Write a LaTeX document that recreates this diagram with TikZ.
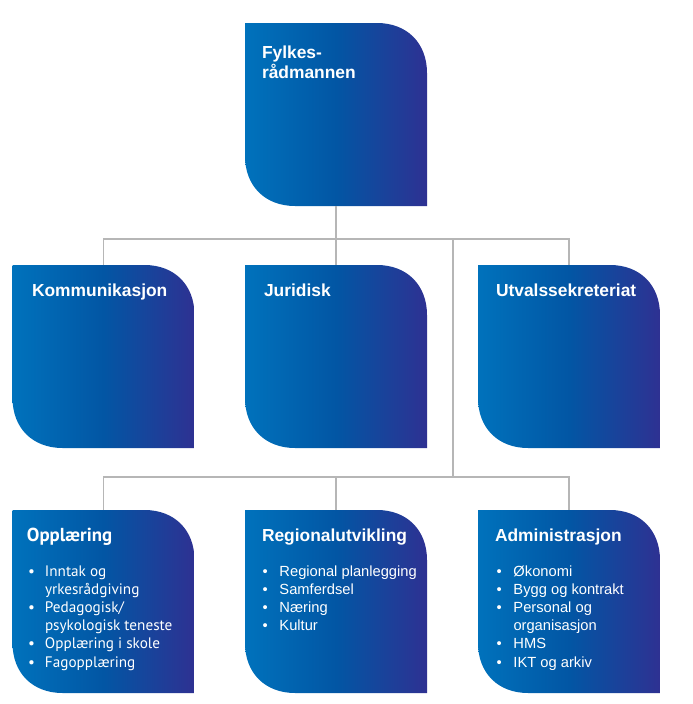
\documentclass[tikz,border=0pt]{standalone}
\usepackage{fontspec}
\setmainfont{Liberation Sans}
\newfontfamily\ptsans{PT Sans}
\usetikzlibrary{calc}
\definecolor{bleft}{RGB}{0,114,188}
\definecolor{bmid}{RGB}{2,86,164}
\definecolor{bright}{RGB}{46,49,146}
\definecolor{conncol}{RGB}{182,182,182}
\newcommand\bul{\makebox[17pt][l]{•}}
\newcommand\nobul{\makebox[17pt][l]{}}
\tikzset{
  orgbox/.style={minimum width=182pt, minimum height=183pt, inner sep=0pt, outer sep=0pt,
    path picture={
      \shade[left color=bleft, right color=bright, middle color=bmid]
        let \p1=(path picture bounding box.south west), \p2=(path picture bounding box.north east) in
        (\x1,\y2) -- ({\x2-50pt},\y2) .. controls ({\x2-20pt},\y2) and (\x2,{\y2-20pt}) .. (\x2,{\y2-50pt})
        -- (\x2,\y1) -- ({\x1+50pt},\y1) .. controls ({\x1+20pt},\y1) and (\x1,{\y1+20pt}) .. (\x1,{\y1+50pt}) -- cycle;
    }},
  titletext/.style={anchor=base west, inner sep=0pt, outer sep=0pt, text=white,
    font=\bfseries\fontsize{17.4}{20}\selectfont},
  listtext/.style={anchor=base west, inner sep=0pt, outer sep=0pt, text=white,
    font=\fontsize{14.7}{18.2}\selectfont},
  conn/.style={draw=conncol, line width=1.5pt},
}
\begin{document}
\begin{tikzpicture}[x=1pt,y=1pt]
\useasboundingbox (0,0) rectangle (693,-704);
% boxes
\node[orgbox] (top)  at (336,-114.5) {};
\node[orgbox] (komm) at (103.5,-356.5) {};
\node[orgbox] (jur)  at (336,-356.5) {};
\node[orgbox] (utv)  at (569,-356.5) {};
\node[orgbox] (oppl) at (103.5,-601.5) {};
\node[orgbox] (reg)  at (336,-601.5) {};
\node[orgbox] (adm)  at (569,-601.5) {};
% connectors
\coordinate (bus1) at (336,-239);
\coordinate (split1) at (453,-239);
\coordinate (split2) at (453,-477);
\draw[conn] (top.south) -- (bus1);
\draw[conn] (komm.north) |- (bus1) -| (utv.north);
\draw[conn] (bus1) -- (jur.north);
\draw[conn] (split1) -- (split2);
\draw[conn] (oppl.north) |- (split2) -| (adm.north);
\draw[conn] (reg.north) |- (split2);
% titles
\node[titletext] (ttop) at (262,-58) {\begin{tabular}[t]{@{}l@{}}Fylkes-\\rådmannen\end{tabular}};
\node[titletext] (tkomm) at (32,-296) {Kommunikasjon};
\node[titletext] (tjur) at (264,-296) {Juridisk};
\node[titletext] (tutv) at (496,-296) {Utvalssekreteriat};
\node[titletext, font=\ptsans\bfseries\fontsize{18.8}{20}\selectfont] (toppl) at (27,-541) {Opplæring};
\node[titletext] (treg) at (262,-541) {Regionalutvikling};
\node[titletext] (tadm) at (495,-541) {Administrasjon};
% lists
\node[listtext, font=\ptsans\fontsize{15.2}{18.2}\selectfont] (loppl) at (28,-576) {\begin{tabular}[t]{@{}l@{}}
\bul Inntak og\\
\nobul yrkesrådgiving\\
\bul Pedagogisk/\\
\nobul psykologisk teneste\\
\bul Opplæring i skole\\
\bul Fagopplæring
\end{tabular}};
\node[listtext] (lreg) at (262.5,-576) {\begin{tabular}[t]{@{}l@{}}
\bul Regional planlegging\\
\bul Samferdsel\\
\bul Næring\\
\bul Kultur
\end{tabular}};
\node[listtext] (ladm) at (496.5,-576) {\begin{tabular}[t]{@{}l@{}}
\bul Økonomi\\
\bul Bygg og kontrakt\\
\bul Personal og\\
\nobul organisasjon\\
\bul HMS\\
\bul IKT og arkiv
\end{tabular}};
\end{tikzpicture}
\end{document}
